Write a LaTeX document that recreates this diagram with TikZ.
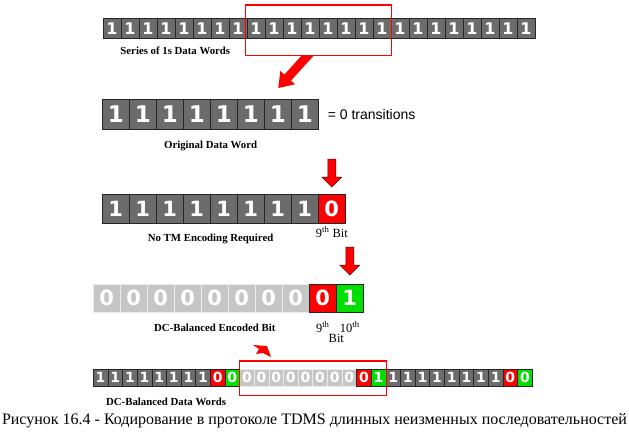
\documentclass[tikz,border=0pt]{standalone}
\usepackage{fontspec}
\setmainfont{Liberation Serif}
\newfontfamily\digitfont{DejaVu Sans}
\newfontfamily\arialfont{Liberation Sans}
\usetikzlibrary{positioning,calc}
\definecolor{bitgreen}{RGB}{0,224,0}
\definecolor{darkbit}{RGB}{108,108,108}
\definecolor{lightbit}{RGB}{198,198,198}
\definecolor{framered}{RGB}{255,0,0}
\newcommand{\digits}[1]{\digitfont\bfseries\fontsize{#1}{#1}\selectfont}
\tikzset{
  bit/.style     = { draw=black!85, inner sep=0pt, anchor=north west, text=white, line width=0.6pt },
  one/.style     = { bit, fill=darkbit },
  zero/.style    = { bit, fill=lightbit, draw=black!8 },
  nine/.style    = { bit, fill=red },
  ten/.style     = { bit, fill=bitgreen },
  wordlbl/.style = { inner sep=0pt, font=\bfseries\fontsize{10.8}{12}\selectfont },
  bitlbl/.style  = { inner sep=0pt, font=\fontsize{12.5}{13}\selectfont },
  redframe/.style   = { draw=framered, line width=1.1pt },
  blockarrow/.style = { fill=red, draw=black!65!red, line width=0.5pt },
  downarrow/.pic = { \draw[blockarrow] (0,0) -- (10,-10) -- (4,-10) -- (4,-28)
      -- (-4,-28) -- (-4,-10) -- (-10,-10) -- cycle; }
}

\begin{document}
\begin{tikzpicture}[x=1pt,y=-1pt]
    \useasboundingbox[fill=white] (0,0) rectangle (629,436);

    % series of 1s
    \foreach \i in {0,...,23}
      \node[one, minimum width=18pt, minimum height=20pt, font={\digits{16}}] (a\i) at ({102.7+18*\i},18) {1};
    \node[wordlbl, below=8pt of a3.south east] (lblA) {Series of 1s Data Words};
    \draw[redframe] ([xshift=-1.5pt,yshift=13pt]a8.north west) rectangle ([yshift=-17pt]a15.south east);

    % original word
    \foreach \i in {0,...,7}
      \node[one, minimum width=27pt, minimum height=30pt, font={\digits{23}}] (b\i) at ({102+27*\i},99) {1};
    \node[right=9pt of b7, inner sep=0pt, font=\arialfont\fontsize{14}{14}\selectfont] (trans) {= 0 transitions};
    \node[wordlbl, below=11pt of b3.south east] (lblB) {Original Data Word};
    \begin{scope}[shift={(b6.north)}]
      \fill[red] (0.5,-11) -- (17.3,-14.7) -- (13.2,-18.4) -- (35.5,-43) -- (23.4,-43)
        -- (6.6,-24.4) -- (2.5,-28.1) -- cycle;
    \end{scope}

    % 9th bit
    \foreach \s/\d [count=\i from 0] in {one/1,one/1,one/1,one/1,one/1,one/1,one/1,one/1,nine/0}
      \node[\s, minimum width=27pt, minimum height=29pt, font={\digits{21}}] (c\i) at ({102+27*\i},194) {\d};
    \node[wordlbl, below=10pt of c3.south east] (lblC) {No TM Encoding Required};
    \node[bitlbl, below=3pt of c8] (ninth) {9\textsuperscript{th} Bit};
    \pic at ([yshift=7pt]c8.north) {downarrow};

    % 10th bit
    \foreach \s/\d [count=\i from 0] in {zero/0,zero/0,zero/0,zero/0,zero/0,zero/0,zero/0,zero/0,nine/0,ten/1}
      \node[\s, minimum width=27pt, minimum height=28pt, font={\digits{21}}] (d\i) at ({93+27*\i},284) {\d};
    \node[wordlbl, below=11pt of d4.south] (lblD) {DC-Balanced Encoded Bit};
    \node[bitlbl, below=9pt of d8] (n9) {9\textsuperscript{th}};
    \node[bitlbl, below=9pt of d9] (n10) {10\textsuperscript{th}};
    \coordinate (bitpt) at ($(n9.south)!0.5!(n10.south)$);
    \node[bitlbl, below=1pt of bitpt] (bitw) {Bit};
    \pic at ([yshift=9pt]d9.north) {downarrow};

    % balanced stream
    \foreach \s/\d [count=\i from 0] in {one/1,one/1,one/1,one/1,one/1,one/1,one/1,one/1,nine/0,ten/0,
        zero/0,zero/0,zero/0,zero/0,zero/0,zero/0,zero/0,zero/0,nine/0,ten/1,
        one/1,one/1,one/1,one/1,one/1,one/1,one/1,one/1,nine/0,ten/0}
      \node[\s, minimum width=14.63pt, minimum height=17pt, font={\digits{14}}] (e\i) at ({93+14.63*\i},369) {\d};
    \node[wordlbl, below=11pt of e5.south west] (lblE) {DC-Balanced Data Words};
    \draw[redframe] ([yshift=8pt]e10.north west) rectangle ([yshift=-9pt]e19.south east);
    \fill[red] (253,345) -- (267,346) -- (271,357) -- (263,353) -- (256,354) -- (259,349) -- cycle;

    \node[inner sep=0pt, font=\fontsize{16}{17}\selectfont] (fig) at (314.5,421)
      {Рисунок 16.4 - Кодирование в протоколе TDMS длинных неизменных последовательностей};
\end{tikzpicture}
\end{document}
